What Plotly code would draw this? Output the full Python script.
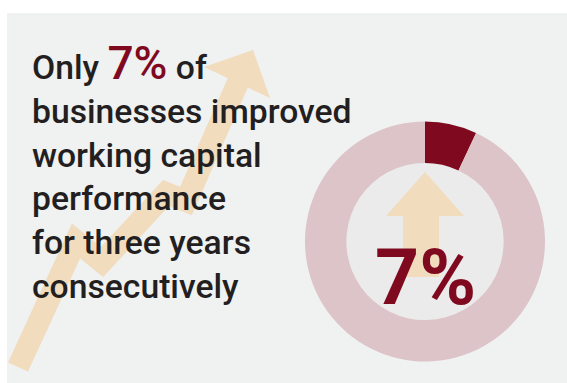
import plotly.graph_objects as go

# Share of businesses that improved working capital three years running
share_improved = 7
share_other = 100 - share_improved
slice_labels = ["Improved three years consecutively", "Did not"]
slice_values = [share_improved, share_other]

headline_lines = [
    "Only {pct} of",
    "businesses improved",
    "working capital",
    "performance",
    "for three years",
    "consecutively",
]

W, H = 567, 383
PANEL = "#F0F1F1"
HOLE_FILL = "#ECEBEC"
RING_LIGHT = "#DCC4C8"
CLARET = "#7F0A1F"
SAND = "#F1DCBE"
INK = "#231F20"
FONT = "Roboto, Arial, sans-serif"

cx, cy, r_out = 425, 241.5, 120
hole = 0.655

fig = go.Figure()

fig.add_trace(go.Pie(
    labels=slice_labels,
    values=slice_values,
    hole=hole,
    sort=False,
    direction="clockwise",
    rotation=0,
    marker=dict(colors=[CLARET, RING_LIGHT], line=dict(width=0)),
    textinfo="none",
    hoverinfo="label+percent",
    showlegend=False,
    domain=dict(x=[(cx - r_out) / W, (cx + r_out) / W],
                y=[1 - (cy + r_out) / H, 1 - (cy - r_out) / H]),
))

shapes = [
    # panel background
    dict(type="rect", x0=7, x1=W, y0=13, y1=H, fillcolor=PANEL,
         line=dict(width=0), layer="below"),
    # rising zigzag arrow shaft
    dict(type="path",
         path="M 18 367 L 76 241 L 102 262 L 166 193 L 186 201 L 239 80",
         line=dict(color=SAND, width=22), fillcolor="rgba(0,0,0,0)",
         layer="below"),
    # rising arrow head
    dict(type="path", path="M 204 67 L 270 98 L 253 50 Z",
         fillcolor=SAND, line=dict(width=0), layer="below"),
    # donut hole fill
    dict(type="circle", x0=cx - r_out * hole, x1=cx + r_out * hole,
         y0=cy - r_out * hole, y1=cy + r_out * hole,
         fillcolor=HOLE_FILL, line=dict(width=0), layer="below"),
    # up arrow inside the donut
    dict(type="path",
         path="M 425 172 L 464 216 L 439 216 L 439 277 L 403 277 L 403 216 L 386 216 Z",
         fillcolor=SAND, line=dict(width=0), layer="below"),
]

pct_text = f"{share_improved}%"
first = headline_lines[0].format(
    pct=f"<span style='font-size:46px;font-weight:500;color:{CLARET}'>{pct_text}</span>")
headline = "<br>".join([first] + headline_lines[1:])

annotations = [
    dict(x=30, y=34, xref="x", yref="y", xanchor="left", yanchor="top",
         text=headline, showarrow=False, align="left",
         font=dict(family=FONT, size=33.7, color=INK, weight=500)),
    dict(x=cx, y=278, xref="x", yref="y", xanchor="center", yanchor="middle",
         text=pct_text, showarrow=False,
         font=dict(family=FONT, size=77, color=CLARET, weight="bold")),
]

fig.update_layout(
    width=W, height=H,
    margin=dict(l=0, r=0, t=0, b=0),
    paper_bgcolor="white",
    plot_bgcolor="rgba(0,0,0,0)",
    xaxis=dict(range=[0, W], visible=False, fixedrange=True),
    yaxis=dict(range=[H, 0], visible=False, fixedrange=True),
    shapes=shapes,
    annotations=annotations,
)

fig.write_html("out.html")
